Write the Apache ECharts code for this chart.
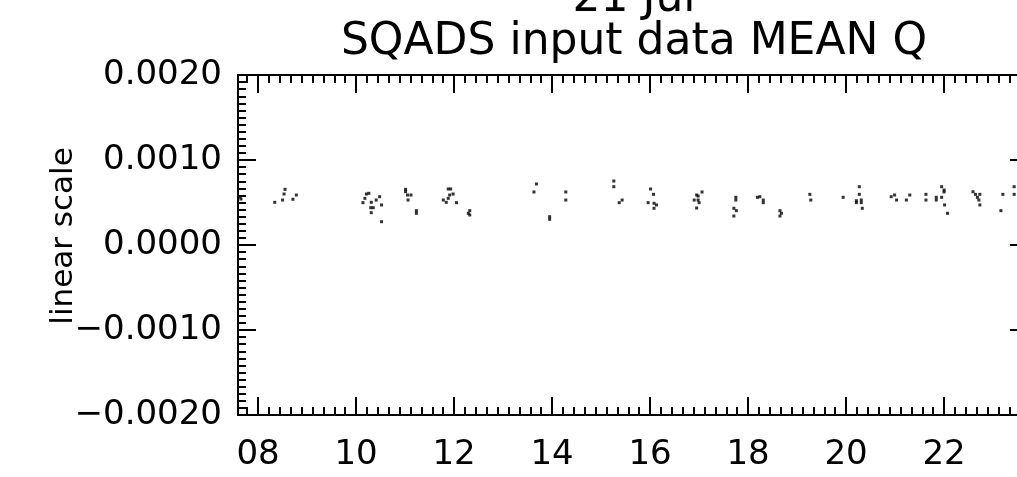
<!DOCTYPE html>
<html><head><meta charset="utf-8">
<script src="https://cdn.jsdelivr.net/npm/echarts@6/dist/echarts.min.js"></script>
<style>html,body{margin:0;padding:0;background:#fff}#c{width:1017px;height:477px}</style>
</head><body><div id="c"></div>
<script>
const titleLines = ['21 Jul', 'SQADS input data MEAN Q'];
const yAxisName = 'linear scale';
const xTicks = [8, 10, 12, 14, 16, 18, 20, 22];
const xTickLabels = ['08', '10', '12', '14', '16', '18', '20', '22'];
const yTicks = [-0.002, -0.001, 0, 0.001, 0.002];
const yTickLabels = ['\u22120.0020', '\u22120.0010', '0.0000', '0.0010', '0.0020'];
const xRange = [7.59, 23.71];
const yRange = [-0.002, 0.002];

const hours = [
  7.63, 7.65,
  8.34, 8.50, 8.55, 8.53, 8.71, 8.78,
  10.14, 10.18, 10.21, 10.26, 10.31, 10.41, 10.48, 10.30, 10.35, 10.31, 10.52, 10.52,
  11.01, 11.01, 11.05, 11.12, 11.06, 11.23, 11.23,
  11.88, 11.93, 11.91, 11.98, 11.78, 11.84, 11.88, 12.05, 12.29, 12.32, 12.32,
  13.68, 13.63, 13.95, 13.95, 14.28, 14.28,
  15.26, 15.26, 15.37, 15.43,
  16.01, 16.07, 15.96, 16.08, 16.13, 16.08,
  17.06, 16.95, 16.98, 16.90, 16.98, 17.00, 16.95,
  17.75, 17.75, 17.71, 17.76, 17.71,
  18.19, 18.24, 18.31, 18.31, 18.65, 18.68, 18.65,
  19.26, 19.28, 19.94,
  20.27, 20.27, 20.21, 20.31, 20.21, 20.31, 20.33,
  20.92, 20.99, 21.03, 21.23, 21.30, 21.63, 21.63, 21.84, 21.84,
  21.95, 22.00, 22.00, 21.95, 22.01, 22.07,
  22.59, 22.64, 22.73, 22.68, 22.71, 22.73,
  23.20, 23.16, 23.43, 23.43
];
const meanQ = [
  0.000565, 0.000541,
  0.000502, 0.000529, 0.000655, 0.000600, 0.000538, 0.000588,
  0.000498, 0.000549, 0.000600, 0.000608, 0.000502, 0.000529, 0.000568, 0.000439, 0.000439, 0.000380, 0.000471, 0.000274,
  0.000655, 0.000627, 0.000588, 0.000588, 0.000529, 0.000404, 0.000373,
  0.000659, 0.000659, 0.000588, 0.000600, 0.000529, 0.000502, 0.000549, 0.000498, 0.000373, 0.000404, 0.000353,
  0.000718, 0.000624, 0.000333, 0.000302, 0.000624, 0.000529,
  0.000753, 0.000686, 0.000498, 0.000529,
  0.000659, 0.000596, 0.000498, 0.000491, 0.000471, 0.000432,
  0.000624, 0.000588, 0.000576, 0.000529, 0.000529, 0.000498, 0.000435,
  0.000561, 0.000529, 0.000432, 0.000404, 0.000341,
  0.000561, 0.000568, 0.000529, 0.000498, 0.000404, 0.000373, 0.000341,
  0.000596, 0.000529, 0.000561,
  0.000686, 0.000596, 0.000521, 0.000529, 0.000498, 0.000498, 0.000432,
  0.000568, 0.000588, 0.000529, 0.000529, 0.000588, 0.000596, 0.000529, 0.000561, 0.000529,
  0.000686, 0.000647, 0.000624, 0.000561, 0.000471, 0.000373,
  0.000627, 0.000596, 0.000596, 0.000561, 0.000529, 0.000471,
  0.000596, 0.000404, 0.000686, 0.000596
];

// minor tick positions (IDL style)
const xMinorStep = 2 / 9;
const xMinor = [];
for (let k = Math.ceil((xRange[0] - 8) / xMinorStep); 8 + k * xMinorStep <= xRange[1]; k++) xMinor.push(8 + k * xMinorStep);
const yMinorStep = 0.001 / 12;
const yMinor = [];
for (let k = 0; yRange[0] + k * yMinorStep <= yRange[1] + 1e-12; k++) yMinor.push(yRange[0] + k * yMinorStep);

const FONT = 'DejaVu Sans';
const blk = '#000';
const labelOf = (ticks, labels) => v => { const i = ticks.findIndex(t => Math.abs(t - v) < 1e-9); return i >= 0 ? labels[i] : ''; };

function xAx(pos, major, withLabel) {
  return {
    type: 'value', position: pos, min: xRange[0], max: xRange[1],
    axisLine: { show: major, onZero: false, lineStyle: { color: blk, width: 2 } },
    axisTick: { show: true, inside: true, length: major ? 18 : 8, customValues: major ? xTicks : xMinor, lineStyle: { color: blk, width: 2 } },
    axisLabel: withLabel ? { show: true, customValues: xTicks, formatter: labelOf(xTicks, xTickLabels), color: blk, fontFamily: FONT, fontSize: 34, margin: 23 } : { show: false },
    splitLine: { show: false }
  };
}
function yAx(pos, major, withLabel) {
  return {
    type: 'value', position: pos, min: yRange[0], max: yRange[1],
    axisLine: { show: major, onZero: false, lineStyle: { color: blk, width: 2 } },
    axisTick: { show: true, inside: true, length: major ? 18 : 8, customValues: major ? yTicks : yMinor, lineStyle: { color: blk, width: 2 } },
    axisLabel: withLabel ? { show: true, customValues: yTicks, formatter: labelOf(yTicks, yTickLabels), color: blk, fontFamily: FONT, fontSize: 34, margin: 16 } : { show: false },
    splitLine: { show: false }
  };
}

const chart = echarts.init(document.getElementById('c'), null, { renderer: 'canvas' });
chart.setOption({
  backgroundColor: '#fff',
  animation: false,
  grid: { left: 238, top: 75, width: (xRange[1] - xRange[0]) * 49, height: 340, containLabel: false, outerBoundsMode: 'none' },
  graphic: [
    { type: 'text', x: 634, y: 22, style: { text: titleLines[0], fill: blk, font: '44px "DejaVu Sans"', textAlign: 'center', textVerticalAlign: 'bottom', align: 'center', verticalAlign: 'bottom' } },
    { type: 'text', x: 634, y: 65, style: { text: titleLines[1], fill: blk, font: '44px "DejaVu Sans"', textAlign: 'center', textVerticalAlign: 'bottom', align: 'center', verticalAlign: 'bottom' } },
    { type: 'text', x: 64, y: 236, rotation: Math.PI / 2, style: { text: yAxisName, fill: blk, font: '31px "DejaVu Sans"', textAlign: 'center', textVerticalAlign: 'middle', align: 'center', verticalAlign: 'middle' } }
  ],
  xAxis: [xAx('bottom', true, true), xAx('bottom', false, false), xAx('top', true, false), xAx('top', false, false)],
  yAxis: [yAx('left', true, true), yAx('left', false, false), yAx('right', true, false), yAx('right', false, false)],
  series: [{
    type: 'scatter', xAxisIndex: 0, yAxisIndex: 0,
    symbol: 'rect', symbolSize: 3,
    itemStyle: { color: blk },
    data: hours.map((h, i) => [h, meanQ[i]])
  }]
});
</script>
</body></html>
